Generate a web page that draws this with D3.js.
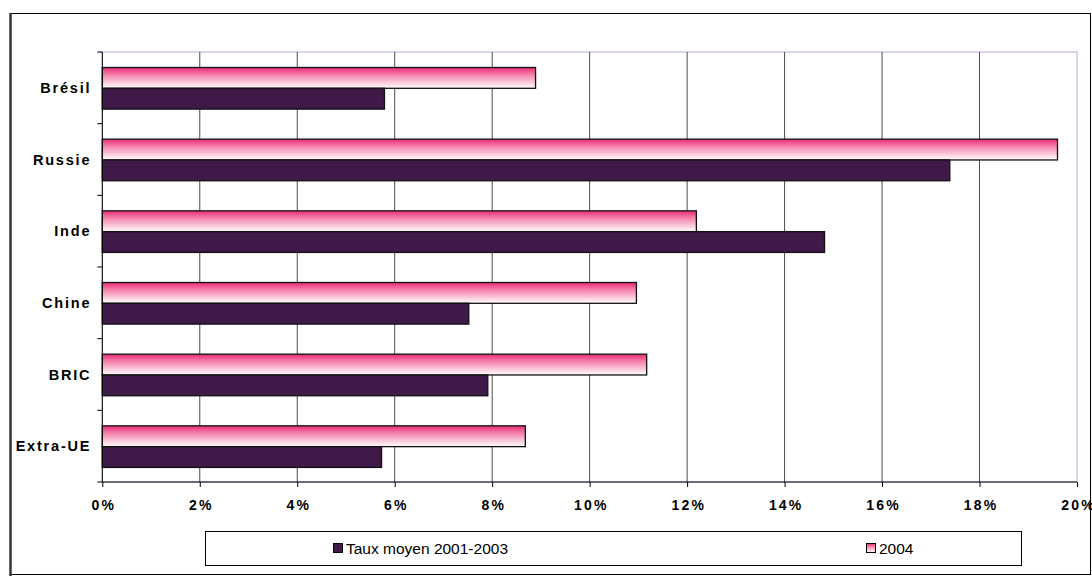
<!DOCTYPE html>
<html><head><meta charset="utf-8">
<script src="https://cdn.jsdelivr.net/npm/d3@7/dist/d3.min.js"></script>
<style>body{margin:0;background:#fff}svg{display:block}</style>
</head><body>
<script>
const categories = ["Brésil","Russie","Inde","Chine","BRIC","Extra-UE"];
const seriesNames = ["2004","Taux moyen 2001-2003"];
const values2004 = [8.89,19.60,12.19,10.96,11.17,8.68];
const valuesAvg = [5.79,17.39,14.82,7.52,7.91,5.73];
const xTicks = [0,2,4,6,8,10,12,14,16,18,20];

(function(){
const W=1092,H=576;
const svg=d3.select("body").append("svg").attr("width",W).attr("height",H);
const defs=svg.append("defs");
const g1=defs.append("linearGradient").attr("id","pinkGrad").attr("x1",0).attr("y1",0).attr("x2",0).attr("y2",1);
g1.append("stop").attr("offset","0%").attr("stop-color","#ea2c76");
g1.append("stop").attr("offset","40%").attr("stop-color","#f58cb3");
g1.append("stop").attr("offset","100%").attr("stop-color","#ffffff");

// outer chart border
svg.append("rect").attr("x",10.5).attr("y",13.5).attr("width",1080).attr("height",561)
  .attr("fill","#fff").attr("stroke","#000").attr("stroke-width",1);
svg.append("line").attr("x1",10.5).attr("x2",10.5).attr("y1",13).attr("y2",576).attr("stroke","#333").attr("stroke-width",2.5);

const pl=102.3,pr=1077,pt=52,pb=482;
const x=d3.scaleLinear().domain([0,20]).range([pl,pr]);
const y=d3.scaleBand().domain(categories).range([pt,pb]).padding(0);
const y1=d3.scaleBand().domain(seriesNames).range([15.5,15.5+41.6]).padding(0);

// plot border (lavender)
svg.append("rect").attr("x",pl).attr("y",pt).attr("width",pr-pl).attr("height",pb-pt)
  .attr("fill","none").attr("stroke","#c9b6dc").attr("stroke-width",1.2);

// gridlines
svg.append("g").selectAll("line").data(xTicks.slice(1,-1)).join("line")
  .attr("x1",d=>x(d)).attr("x2",d=>x(d)).attr("y1",pt).attr("y2",pb)
  .attr("stroke","#4a4a4a").attr("stroke-width",1);

// bars
const data=categories.map((c,i)=>({c,v:[{s:"2004",v:values2004[i]},{s:"Taux moyen 2001-2003",v:valuesAvg[i]}]}));
const grp=svg.append("g").selectAll("g").data(data).join("g").attr("transform",d=>`translate(0,${y(d.c)})`);
grp.selectAll("rect").data(d=>d.v).join("rect")
  .attr("x",x(0)).attr("y",d=>y1(d.s)).attr("width",d=>x(d.v)-x(0)).attr("height",y1.bandwidth())
  .attr("fill",d=>d.s==="2004"?"url(#pinkGrad)":"#3f1947")
  .attr("stroke","#111").attr("stroke-width",1.3);

// axes
const xAxis=d3.axisBottom(x).tickValues(xTicks).tickFormat(d=>d+"%").tickSize(5).tickPadding(13);
const xg=svg.append("g").attr("transform",`translate(0,${pb})`).call(xAxis);
xg.select(".domain").attr("stroke","#000").attr("d",`M${pl},0H${pr}`);
xg.selectAll(".tick line").attr("stroke","#000");
xg.selectAll(".tick text").attr("font-family","Liberation Sans, Arial, sans-serif").attr("font-weight","bold")
  .attr("font-size",14).attr("fill","#000").attr("letter-spacing","2.2px").attr("dx","1.1");

const yg=svg.append("g").attr("transform",`translate(${pl},0)`);
yg.append("line").attr("x1",0).attr("x2",0).attr("y1",pt).attr("y2",pb).attr("stroke","#000");
const bounds=categories.map(c=>y(c)).concat([pb]);
yg.selectAll("line.t").data(bounds).join("line").attr("class","t")
  .attr("x1",-5).attr("x2",0).attr("y1",d=>d).attr("y2",d=>d).attr("stroke","#000");
yg.selectAll("text").data(categories).join("text")
  .attr("x",-11).attr("y",d=>y(d)+y.bandwidth()/2+5).attr("text-anchor","end")
  .attr("font-family","Liberation Sans, Arial, sans-serif").attr("font-weight","bold").attr("font-size",14.5)
  .attr("letter-spacing","1.8px").text(d=>d);

// legend
const lg=svg.append("g");
lg.append("rect").attr("x",205.5).attr("y",531.5).attr("width",816).attr("height",34)
  .attr("fill","#fff").attr("stroke","#000").attr("stroke-width",1);
const legendItems=[{name:"Taux moyen 2001-2003",fill:"#3f1947",x:333},{name:"2004",fill:"url(#pinkGrad)",x:866}];
const li=lg.selectAll("g").data(legendItems).join("g").attr("transform",d=>`translate(${d.x},0)`);
li.append("rect").attr("x",0.5).attr("y",543.5).attr("width",9).attr("height",9).attr("fill",d=>d.fill).attr("stroke","#000");
li.append("text").attr("x",13).attr("y",554).attr("font-family","Liberation Sans, Arial, sans-serif")
  .attr("font-size",15.5).text(d=>d.name);
})();
</script>
</body></html>
